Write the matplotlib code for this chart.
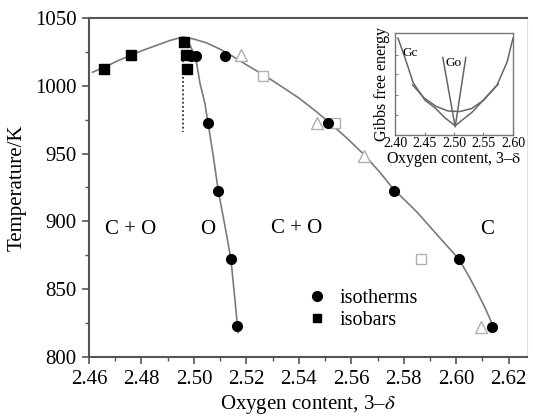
import matplotlib
matplotlib.use("Agg")
import matplotlib.pyplot as plt
from matplotlib.lines import Line2D
from matplotlib.ticker import MultipleLocator

plt.rcParams['font.family'] = ['Liberation Serif', 'DejaVu Serif']
plt.rcParams['mathtext.fontset'] = 'stix'

# isotherms (filled circles)
iso_t_x = [2.4989, 2.5008, 2.512, 2.5054, 2.5093, 2.5141, 2.5166, 2.551, 2.5762, 2.6011, 2.6136]
iso_t_y = [1022, 1022, 1022, 972.3, 922.4, 872.3, 822.9, 972.5, 922.4, 872.3, 822.4]

# isobars (filled squares)
iso_b_x = [2.4657, 2.476, 2.4962, 2.497, 2.4973]
iso_b_y = [1012.5, 1022.5, 1032.5, 1022.5, 1012.5]

# other data (hollow grey markers)
tri_x = [2.518, 2.547, 2.565, 2.6096]
tri_y = [1022.5, 972.5, 948, 822.4]
sq_x = [2.5263, 2.5537, 2.5865]
sq_y = [1007.5, 972.5, 872.5]

# phase boundaries
env_x = [2.4613, 2.4657, 2.471, 2.476, 2.481, 2.486, 2.491, 2.4958, 2.500, 2.505,
         2.510, 2.515, 2.520, 2.527, 2.533, 2.540, 2.546, 2.551, 2.558, 2.565,
         2.571, 2.576, 2.585, 2.5937, 2.601, 2.605, 2.6085, 2.6113, 2.6136]
env_y = [1010, 1013.5, 1018.5, 1022.5, 1026.5, 1030, 1033.5, 1036, 1034.5, 1031.5,
         1027, 1021.5, 1015.5, 1007.5, 1000, 991, 982, 974, 962, 949,
         936, 924, 907, 888, 872.3, 859, 846, 835, 825]
o_x = [2.4985, 2.5006, 2.5023, 2.5042, 2.5054, 2.5074, 2.5093, 2.5118, 2.5141, 2.5154, 2.5166, 2.5169]
o_y = [1030, 1021.5, 1002, 987, 972.3, 948, 922.4, 897, 872.3, 847, 822.9, 818]
dot_x = [2.4958, 2.4958]
dot_y = [1025, 966]

# region labels
regions = ["C + O", "O", "C + O", "C"]
reg_x = [2.476, 2.5053, 2.539, 2.6116]
reg_y = [894, 894, 895, 894]

# inset: Gibbs free energy curves
gc_x = [2.405, 2.417, 2.431, 2.451, 2.468, 2.485, 2.502, 2.514, 2.531, 2.553, 2.573, 2.590, 2.600]
gc_y = [0.95, 0.755, 0.51, 0.34, 0.265, 0.167, 0.09, 0.147, 0.225, 0.363, 0.49, 0.716, 0.95]
gb_x = [2.43, 2.45, 2.47, 2.49, 2.51, 2.53, 2.55, 2.575]
gb_y = [0.49, 0.36, 0.28, 0.235, 0.23, 0.26, 0.34, 0.5]
go_x = [2.481, 2.502, 2.520]
go_y = [0.76, 0.08, 0.76]

fig = plt.figure(figsize=(5.33, 4.18), dpi=100)
ax = fig.add_axes([89 / 533, 1 - 357 / 418, 438 / 533, 339 / 418])

curve_c = '#7a7a7a'
ax.plot(env_x, env_y, color=curve_c, lw=1.2, zorder=2)
ax.plot(o_x, o_y, color=curve_c, lw=1.2, zorder=2)
ax.plot(dot_x, dot_y, color='#333333', lw=1.3, ls=(0, (1, 1.3)), zorder=2)

ax.plot(tri_x, tri_y, '^', ms=8, mfc='white', mec='#b0b0b0', mew=1.0, ls='none', zorder=3)
ax.plot(sq_x, sq_y, 's', ms=7, mfc='white', mec='#b0b0b0', mew=1.0, ls='none', zorder=3)
ax.plot(iso_b_x, iso_b_y, 's', ms=7, color='black', ls='none', zorder=4)
ax.plot(iso_t_x, iso_t_y, 'o', ms=7, color='black', ls='none', zorder=5)

for t, x, y in zip(regions, reg_x, reg_y):
    ax.text(x, y, t, fontsize=15, ha='center', va='center')

handles = [Line2D([], [], marker='o', ms=7, color='black', ls='none'),
           Line2D([], [], marker='s', ms=6, color='black', ls='none')]
ax.legend(handles, ['isotherms', 'isobars'], loc='upper left',
          bbox_to_anchor=(0.47, 0.23), frameon=False, fontsize=14.5,
          handletextpad=0.5, labelspacing=0.12, borderpad=0, handlelength=1.2)

ax.set_xlim(2.46, 2.627)
ax.set_ylim(800, 1050)
ax.xaxis.set_minor_locator(MultipleLocator(0.01))
ax.yaxis.set_major_locator(MultipleLocator(50))
ax.yaxis.set_minor_locator(MultipleLocator(25))
ax.set_xticks([2.46, 2.48, 2.50, 2.52, 2.54, 2.56, 2.58, 2.60, 2.62])
ax.set_xticklabels(['2.46', '2.48', '2.50', '2.52', '2.54', '2.56', '2.58', '2.60', '2.62'])
ax.tick_params(which='major', length=5, width=1.2, color='#555555', labelsize=15, pad=4)
ax.tick_params(which='minor', length=3, width=1.0, color='#555555')
ax.set_xlabel(r"Oxygen content, 3–$\delta$", fontsize=15, labelpad=3)
ax.set_ylabel("Temperature/K", fontsize=15, labelpad=6)
for s in ['left', 'bottom', 'top']:
    ax.spines[s].set_color('#555555')
    ax.spines[s].set_linewidth(1.5)
ax.spines['right'].set_color('#e0e0e0')

# inset
ins = fig.add_axes([395 / 533, 1 - 135 / 418, 118 / 533, 102 / 418])
ins.plot(gc_x, gc_y, color='#666666', lw=1.1)
ins.plot(gb_x, gb_y, color='#666666', lw=1.1)
ins.plot(go_x, go_y, color='#666666', lw=1.1)
ins.text(2.425, 0.80, "Gc", fontsize=9.5, ha='center', va='center')
ins.text(2.4985, 0.71, "Go", fontsize=9.5, ha='center', va='center')
ins.set_xlim(2.40, 2.60)
ins.set_ylim(0, 1)
ins.set_xticks([2.40, 2.45, 2.50, 2.55, 2.60])
ins.set_xticklabels(['2.40', '2.45', '2.50', '2.55', '2.60'])
ins.set_yticks([0.2, 0.39, 0.6, 0.78])
ins.set_yticklabels([])
ins.tick_params(direction='in', length=2.5, color='#888888', labelsize=10, pad=1.5)
ins.set_xlabel(r"Oxygen content, 3–$\mathrm{\delta}$", fontsize=11.5, labelpad=0)
ins.set_ylabel("Gibbs free energy", fontsize=11.5, labelpad=2)
for s in ins.spines.values():
    s.set_color('#777777')
    s.set_linewidth(1.0)

fig.savefig("out.png", dpi=100)
